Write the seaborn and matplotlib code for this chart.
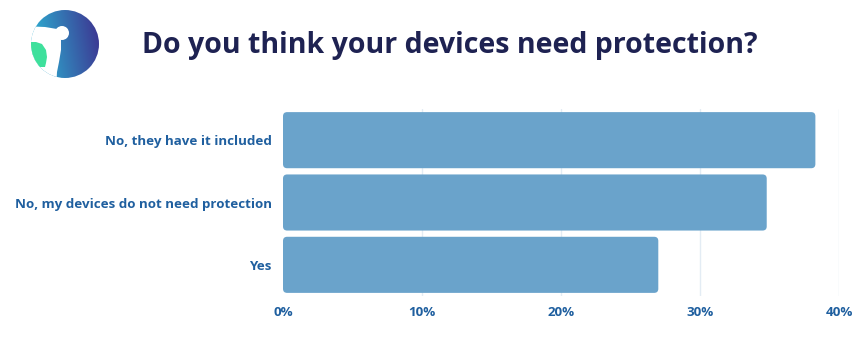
import numpy as np
import pandas as pd
import matplotlib
matplotlib.use("Agg")
import matplotlib.pyplot as plt
import seaborn as sns
from matplotlib.patches import FancyBboxPatch, Circle, Polygon

categories = ["No, they have it included", "No, my devices do not need protection", "Yes"]
values = [38.3, 34.8, 27.0]
tick_values = [0, 10, 20, 30, 40]
tick_labels = ["0%", "10%", "20%", "30%", "40%"]
title = "Do you think your devices need protection?"

sns.set_theme(style="white")
plt.rcParams['font.family'] = ['Open Sans', 'DejaVu Sans']

W, H = 862, 337
fig = plt.figure(figsize=(W / 100, H / 100), dpi=100)
ax = fig.add_axes([283 / W, 1 - 296 / H, (839 - 283) / W, (296 - 109) / H])

df = pd.DataFrame({"category": categories, "value": values})
sns.barplot(data=df, y="category", x="value", color="#6aa3cb", saturation=1,
            width=0.9, ax=ax, zorder=2)

# rounded bars
for p in list(ax.patches):
    x0, y0 = p.get_x(), p.get_y()
    w, h = p.get_width(), p.get_height()
    rb = FancyBboxPatch((x0, y0), w, h,
                        boxstyle="round,pad=0,rounding_size=0.3",
                        mutation_aspect=0.22,
                        facecolor="#6aa3cb", edgecolor="none", zorder=2)
    p.remove()
    ax.add_patch(rb)

ax.set_xlim(0, 40)
ax.set_xticks(tick_values)
ax.set_xticklabels(tick_labels)
ax.set_xlabel("")
ax.set_ylabel("")
for t in tick_values[1:]:
    ax.axvline(t, color="#e3ecf4", lw=1, zorder=1)
for s in ax.spines.values():
    s.set_visible(False)
ax.tick_params(axis="both", length=0, colors="#1f5f9f")
for lab in ax.get_xticklabels() + ax.get_yticklabels():
    lab.set_fontweight("bold")
    lab.set_fontsize(9.6)
    lab.set_color("#1f5f9f")
ax.tick_params(axis="y", pad=8)
ax.tick_params(axis="x", pad=7)

fig.text(142 / W, 1 - 45 / H, title, fontsize=20.5, fontweight="bold",
         color="#1e2252", va="center", ha="left")

# logo (coordinates in pixels of the logo area, y downward)
lx0, ly0, lw, lh = 25, 0, 80, 85
lax = fig.add_axes([lx0 / W, 1 - (ly0 + lh) / H, lw / W, lh / H])
lax.set_xlim(lx0, lx0 + lw)
lax.set_ylim(ly0 + lh, ly0)
lax.axis("off")
cx, cy, r = 65, 44, 34
grad = np.linspace(0, 1, 256)
gx, gy = np.meshgrid(grad, grad)
t = np.clip(0.85 * gx + 0.15 * gy, 0, 1)
c1 = np.array([0.17, 0.74, 0.85])
c2 = np.array([0.24, 0.19, 0.56])
img = c1[None, None, :] * (1 - t[..., None]) + c2[None, None, :] * t[..., None]
im = lax.imshow(img, extent=[cx - r, cx + r, cy - r, cy + r], origin="upper",
                zorder=1, aspect="auto")
clip = Circle((cx, cy), r, transform=lax.transData)
im.set_clip_path(clip)
white = Polygon([(20, 26), (45, 27), (57, 29), (61, 40), (61, 50), (59, 62),
                 (57, 72), (56, 90), (20, 90)], closed=True,
                facecolor="white", edgecolor="none", zorder=2)
lax.add_patch(white)
white.set_clip_path(Circle((cx, cy), r, transform=lax.transData))
lax.add_patch(Circle((62, 33), 7, facecolor="white", edgecolor="none", zorder=2))
green = Polygon([(26, 42), (36, 42), (42, 44), (46, 50), (47, 57), (46, 63),
                 (45, 67), (26, 67)], closed=True,
                facecolor="#3ee09c", edgecolor="none", zorder=3)
lax.add_patch(green)
green.set_clip_path(Circle((cx, cy), r, transform=lax.transData))

fig.savefig("out.png", dpi=100, facecolor="white")
